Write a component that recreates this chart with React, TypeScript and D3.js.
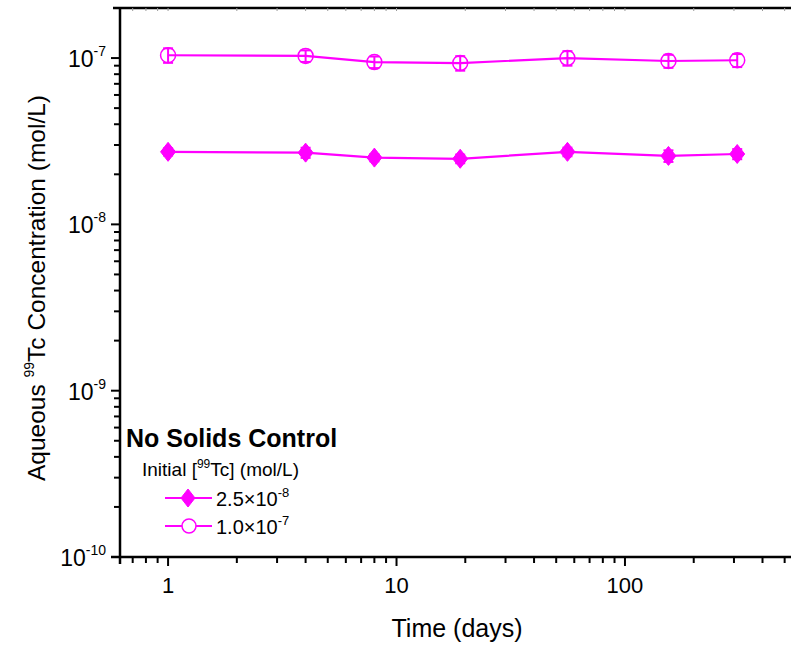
import React from "react";
import * as d3 from "d3";

const days = [1, 4, 8, 19, 56, 155, 310];
const lowConc = [2.73e-8, 2.7e-8, 2.52e-8, 2.48e-8, 2.73e-8, 2.58e-8, 2.65e-8];
const lowErr = [0.05, 0.07, 0.05, 0.06, 0.06, 0.08, 0.07];
const highConc = [1.04e-7, 1.03e-7, 0.946e-7, 0.933e-7, 1.0e-7, 0.96e-7, 0.97e-7];
const highErr = [0.1, 0.08, 0.08, 0.1, 0.1, 0.09, 0.09];
const yMajor = [-10, -9, -8, -7];
const xMajor = [1, 10, 100];
const legendLabels = ["2.5", "1.0"];
const legendExp = ["-8", "-7"];

const MAG = "#FF00FF";
const FONT = "Liberation Sans, Arial, sans-serif";

export default function App() {
  const W = 791, H = 645;
  const left = 120, right = 795, top = 8, bottom = 557;
  const x = d3.scaleLog().domain([0.616, 555]).range([left, right]);
  const y = d3.scaleLog().domain([1e-10, 2e-7]).range([bottom, top]);

  const line = d3.line<[number, number]>().x(d => x(d[0])).y(d => y(d[1]));

  const xMinor: number[] = [];
  for (const dec of [0.1, 1, 10, 100]) for (let k = 2; k <= 9; k++) {
    const v = dec * k;
    if (v >= 0.616 && v <= 555) xMinor.push(v);
  }
  const yMinor: number[] = [];
  for (const e of [-10, -9, -8, -7]) for (let k = 2; k <= 9; k++) {
    const v = k * Math.pow(10, e);
    if (v <= 2e-7) yMinor.push(v);
  }

  const diamond = (cx: number, cy: number, w = 7.5, h = 9.5) =>
    `M${cx},${cy - h}L${cx + w},${cy}L${cx},${cy + h}L${cx - w},${cy}Z`;

  const errBars = (vals: number[], errs: number[], key: string) =>
    days.map((d, i) => {
      const cx = x(d);
      const y1 = y(vals[i] * (1 + errs[i]));
      const y0 = y(vals[i] * (1 - errs[i]));
      return (
        <g key={key + i} stroke={MAG} strokeWidth={2}>
          <line x1={cx} x2={cx} y1={y1} y2={y0} />
          <line x1={cx - 5} x2={cx + 5} y1={y1} y2={y1} />
          <line x1={cx - 5} x2={cx + 5} y1={y0} y2={y0} />
        </g>
      );
    });

  return (
    <svg width={W} height={H} style={{ position: "absolute", left: 0, top: 0, background: "#fff" }} fontFamily={FONT}>
      <rect width={W} height={H} fill="#fff" />
      {/* top axis */}
      <line x1={113} x2={W} y1={top} y2={top} stroke="#000" strokeWidth={2.5} />
      {xMinor.concat(xMajor).map((v, i) => (
        <line key={"tt" + i} x1={x(v)} x2={x(v)} y1={top} y2={top + 3} stroke="#999" strokeWidth={1} />
      ))}
      {/* left axis */}
      <line x1={left} x2={left} y1={top} y2={bottom + 7} stroke="#000" strokeWidth={2.5} />
      {yMajor.map(e => (
        <g key={"ym" + e}>
          <line x1={left - 9} x2={left} y1={y(Math.pow(10, e))} y2={y(Math.pow(10, e))} stroke="#000" strokeWidth={2} />
          <text x={left - 14} y={y(Math.pow(10, e)) + 9} fontSize={23} textAnchor="end">
            10<tspan dy={-11} fontSize={14}>{String(e)}</tspan>
          </text>
        </g>
      ))}
      {yMinor.map((v, i) => (
        <line key={"yn" + i} x1={left - 6} x2={left} y1={y(v)} y2={y(v)} stroke="#000" strokeWidth={2} />
      ))}
      {/* bottom axis */}
      <line x1={left - 9} x2={W} y1={bottom} y2={bottom} stroke="#000" strokeWidth={2.5} />
      {xMajor.map(v => (
        <g key={"xm" + v}>
          <line x1={x(v)} x2={x(v)} y1={bottom} y2={bottom + 9} stroke="#000" strokeWidth={2} />
          <text x={x(v)} y={bottom + 36} fontSize={22} textAnchor="middle">{v}</text>
        </g>
      ))}
      {xMinor.map((v, i) => (
        <line key={"xn" + i} x1={x(v)} x2={x(v)} y1={bottom} y2={bottom + 6} stroke="#000" strokeWidth={2} />
      ))}
      {/* axis titles */}
      <text x={457} y={637} fontSize={25} textAnchor="middle">Time (days)</text>
      <text transform={`translate(45,288) rotate(-90)`} fontSize={24.5} textAnchor="middle">
        Aqueous <tspan dy={-11} fontSize={14}>99</tspan><tspan dy={11}>Tc Concentration (mol/L)</tspan>
      </text>
      {/* series */}
      <path d={line(days.map((d, i) => [d, lowConc[i]]) as [number, number][]) || ""} fill="none" stroke={MAG} strokeWidth={2.2} />
      <path d={line(days.map((d, i) => [d, highConc[i]]) as [number, number][]) || ""} fill="none" stroke={MAG} strokeWidth={2.2} />
      {errBars(lowConc, lowErr, "le")}
      {errBars(highConc, highErr, "he")}
      {days.map((d, i) => (
        <path key={"dm" + i} d={diamond(x(d), y(lowConc[i]))} fill={MAG} stroke={MAG} strokeWidth={1} />
      ))}
      {days.map((d, i) => (
        <circle key={"cm" + i} cx={x(d)} cy={y(highConc[i])} r={7.5} fill="none" stroke={MAG} strokeWidth={1.5} />
      ))}
      {/* legend */}
      <text x={126} y={447} fontSize={25} fontWeight="bold">No Solids Control</text>
      <text x={142} y={476} fontSize={19}>
        Initial [<tspan dy={-8} fontSize={12}>99</tspan><tspan dy={8}>Tc] (mol/L)</tspan>
      </text>
      <line x1={165} x2={212} y1={498} y2={498} stroke={MAG} strokeWidth={2.2} />
      <path d={diamond(188, 498, 7, 9)} fill={MAG} stroke={MAG} />
      <text x={216} y={506} fontSize={20}>
        {legendLabels[0]}×10<tspan dy={-9} fontSize={13}>{legendExp[0]}</tspan>
      </text>
      <line x1={165} x2={212} y1={526} y2={526} stroke={MAG} strokeWidth={2.2} />
      <circle cx={189} cy={526} r={7} fill="#fff" stroke={MAG} strokeWidth={1.5} />
      <text x={216} y={534} fontSize={20}>
        {legendLabels[1]}×10<tspan dy={-9} fontSize={13}>{legendExp[1]}</tspan>
      </text>
    </svg>
  );
}
